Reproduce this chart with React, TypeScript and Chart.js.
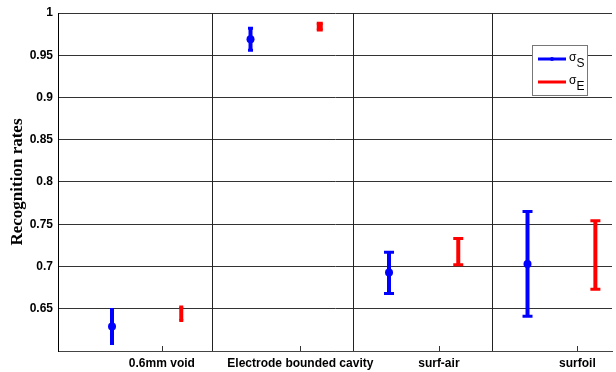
import React, { useEffect, useRef } from 'react';
import { Chart, registerables } from 'chart.js';

Chart.register(...registerables);

// ---- data ----
const categories = ['0.6mm void', 'Electrode bounded cavity', 'surf-air', 'surfoil'];
const categoryPositions = [1, 2, 3, 4];
const separatorPositions = [1.36, 2.38, 3.38];

const sigmaSX = [0.64, 1.64, 2.64, 3.64];
const sigmaSMean = [0.629, 0.969, 0.693, 0.703];
const sigmaSLower = [0.609, 0.956, 0.668, 0.641];
const sigmaSUpper = [0.649, 0.982, 0.717, 0.765];

const sigmaEX = [1.14, 2.14, 3.14, 4.13];
const sigmaEMean = [0.644, 0.984, 0.717, 0.713];
const sigmaELower = [0.636, 0.98, 0.702, 0.673];
const sigmaEUpper = [0.652, 0.988, 0.733, 0.754];

const legendSymbols = ['σ', 'σ'];
const legendSubscripts = ['S', 'E'];

const yMin = 0.6;
const yMax = 1.0;
const yStep = 0.05;

// ---- styles ----
const BLUE = '#0000ff';
const RED = '#ff0000';
const CAP_S = [4, 5, 10, 10];
const CAP_E = [4, 6, 10, 10];

const errorBarPlugin = {
  id: 'errorBars',
  beforeDatasetsDraw(chart: any) {
    const { ctx, chartArea, scales } = chart;
    const xs = scales.x;
    const ys = scales.y;
    ctx.save();
    // separators
    ctx.strokeStyle = '#222';
    ctx.lineWidth = 1;
    separatorPositions.forEach((v) => {
      const x = Math.round(xs.getPixelForValue(v)) + 0.5;
      ctx.beginPath();
      ctx.moveTo(x, chartArea.top);
      ctx.lineTo(x, chartArea.bottom);
      ctx.stroke();
    });
    // inward x ticks
    ctx.strokeStyle = '#333';
    categoryPositions.forEach((v) => {
      const x = Math.round(xs.getPixelForValue(v)) + 0.5;
      ctx.beginPath();
      ctx.moveTo(x, chartArea.bottom);
      ctx.lineTo(x, chartArea.bottom - 5);
      ctx.stroke();
    });
    // error bars
    chart.data.datasets.forEach((ds: any, i: number) => {
      const meta = chart.getDatasetMeta(i);
      ctx.strokeStyle = ds.borderColor;
      meta.data.forEach((pt: any, j: number) => {
        const x = pt.x;
        const yLo = ys.getPixelForValue(ds.lower[j]);
        const yHi = ys.getPixelForValue(ds.upper[j]);
        ctx.lineWidth = Math.max(ds.barWidth, j === 1 && i === 1 ? ds.capWidths[j] : 0);
        ctx.beginPath();
        ctx.moveTo(x, yLo);
        ctx.lineTo(x, yHi);
        ctx.stroke();
        const cw = ds.capWidths[j] / 2;
        ctx.lineWidth = 3;
        ctx.beginPath();
        ctx.moveTo(x - cw, yLo);
        ctx.lineTo(x + cw, yLo);
        ctx.moveTo(x - cw, yHi);
        ctx.lineTo(x + cw, yHi);
        ctx.stroke();
      });
    });
    ctx.restore();
  },
};

const legendPlugin = {
  id: 'boxLegend',
  afterDraw(chart: any) {
    const { ctx } = chart;
    ctx.save();
    const bx = 532.5, by = 45.5, bw = 55, bh = 50;
    ctx.fillStyle = '#fff';
    ctx.fillRect(bx, by, bw, bh);
    ctx.strokeStyle = '#777';
    ctx.lineWidth = 1;
    ctx.strokeRect(bx, by, bw, bh);
    const colors = [BLUE, RED];
    const rows = [59, 82];
    rows.forEach((y, i) => {
      ctx.strokeStyle = colors[i];
      ctx.lineWidth = 3;
      ctx.beginPath();
      ctx.moveTo(538, y);
      ctx.lineTo(566, y);
      ctx.stroke();
      if (i === 0) {
        ctx.fillStyle = colors[i];
        ctx.beginPath();
        ctx.arc(552, y, 2, 0, Math.PI * 2);
        ctx.fill();
      }
      ctx.fillStyle = '#000';
      ctx.textAlign = 'left';
      ctx.textBaseline = 'middle';
      ctx.font = '12px "Liberation Sans", Arial, sans-serif';
      ctx.fillText(legendSymbols[i], 569, y - 1);
      ctx.font = '12px "Liberation Sans", Arial, sans-serif';
      ctx.fillText(legendSubscripts[i], 576.5, y + 5);
    });
    ctx.restore();
  },
};

export default function App() {
  const ref = useRef<HTMLCanvasElement | null>(null);
  useEffect(() => {
    if (!ref.current) return;
    const chart = new Chart(ref.current, {
      type: 'line',
      data: {
        datasets: [
          {
            label: 'σS',
            data: sigmaSX.map((x, i) => ({ x, y: sigmaSMean[i] })),
            lower: sigmaSLower,
            upper: sigmaSUpper,
            capWidths: CAP_S,
            barWidth: 4,
            borderColor: BLUE,
            backgroundColor: BLUE,
            pointRadius: 4,
            pointBorderWidth: 0,
            showLine: false,
          } as any,
          {
            label: 'σE',
            data: sigmaEX.map((x, i) => ({ x, y: sigmaEMean[i] })),
            lower: sigmaELower,
            upper: sigmaEUpper,
            capWidths: CAP_E,
            barWidth: 4,
            borderColor: RED,
            backgroundColor: RED,
            pointRadius: 1,
            pointBorderWidth: 0,
            showLine: false,
          } as any,
        ],
      },
      options: {
        animation: false,
        responsive: false,
        layout: { padding: { top: 13, right: 4, left: 0, bottom: 0 } },
        plugins: { legend: { display: false }, tooltip: { enabled: false } },
        scales: {
          x: {
            type: 'linear',
            min: 0.25,
            max: 4.25,
            afterFit: (s: any) => { s.height = 21; },
            afterBuildTicks: (s: any) => { s.ticks = categoryPositions.map((v) => ({ value: v })); },
            grid: { display: false, drawTicks: false },
            border: { color: '#444', width: 1 },
            ticks: {
              autoSkip: false,
              maxRotation: 0,
              padding: 5,
              color: '#000',
              font: { family: '"Liberation Sans", Arial, sans-serif', size: 12, weight: 'bold' },
              callback: (v: any) => {
                const idx = categoryPositions.indexOf(Number(v));
                return idx >= 0 ? categories[idx] : '';
              },
            },
          },
          y: {
            type: 'linear',
            min: yMin,
            max: yMax,
            afterFit: (s: any) => { s.width = 58; },
            grid: { color: '#333', lineWidth: 1, drawTicks: false },
            border: { color: '#000', width: 1 },
            ticks: {
              stepSize: yStep,
              padding: 5,
              color: '#000',
              font: { family: '"Liberation Sans", Arial, sans-serif', size: 12, weight: 'bold' },
              callback: (v: any) => {
                const n = Number(Number(v).toFixed(2));
                if (Math.abs(n - yMin) < 1e-9) return '';
                return String(n);
              },
            },
            title: {
              display: true,
              text: 'Recognition rates',
              color: '#000',
              padding: { top: 7, bottom: 0 },
              font: { family: '"Liberation Serif", "Times New Roman", serif', size: 17, weight: 'bold' },
            },
          },
        },
      },
      plugins: [errorBarPlugin, legendPlugin],
    } as any);
    return () => chart.destroy();
  }, []);
  return (
    <div style={{ position: 'absolute', left: 0, top: 0, width: 616, height: 372 }}>
      <canvas ref={ref} width={616} height={372} style={{ display: 'block' }} />
    </div>
  );
}
